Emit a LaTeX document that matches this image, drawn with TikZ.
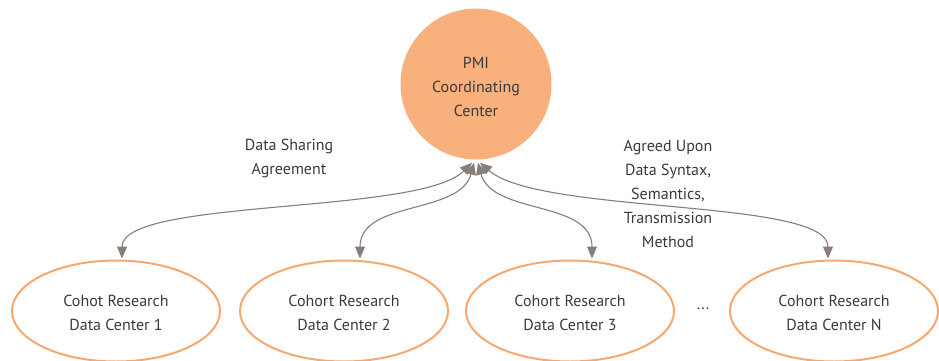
\documentclass[tikz,border=0pt]{standalone}
\usepackage{fontspec}
\setmainfont{PT Sans}
\usetikzlibrary{arrows.meta,shapes.geometric,calc}
\definecolor{orangefill}{HTML}{F8B07C}
\definecolor{orangeline}{HTML}{F6A86F}
\definecolor{arrowgray}{HTML}{877D79}
\definecolor{textgray}{HTML}{3A3A3A}
\tikzset{
  lbl/.style={align=center,text=textgray,font=\fontsize{16}{24}\selectfont,inner sep=0pt},
  center/.style={circle,fill=orangefill,minimum size=151pt,inner sep=0pt},
  cohort/.style={ellipse,draw=orangeline,line width=2pt,minimum width=208pt,minimum height=101pt,inner sep=0pt},
  link/.style={draw=arrowgray,line width=1.1pt,{Triangle[length=12pt,width=10pt]}-{Triangle[length=12pt,width=10pt]}}
}
\begin{document}
\begin{tikzpicture}[x=1pt,y=-1pt]
\useasboundingbox (0,0) rectangle (939,361);
\node[center] (pmi) at (476,84) {};
\node[lbl] (pmit) at (476,87) {PMI\\Coordinating\\Center};
\node[cohort] (c1) at (116,311) {};
\node[cohort] (c2) at (344,311) {};
\node[cohort] (c3) at (570,311) {};
\node[cohort] (cN) at (834,311) {};
\node[lbl] (t1) at (116,313) {Cohot Research\\Data Center 1};
\node[lbl] (t2) at (344,313) {Cohort Research\\Data Center 2};
\node[lbl] (t3) at (570,313) {Cohort Research\\Data Center 3};
\node[lbl] (tN) at (834,313) {Cohort Research\\Data Center N};
\node[lbl] (dots) at (703,309) {...};
\node[lbl] (dsa) at (289,158) {Data Sharing\\Agreement};
\node[lbl] (agr) at (668,194) {Agreed Upon\\Data Syntax,\\Semantics,\\Transmission\\Method};
\coordinate (s1) at ($(pmi.south)+(-4,3)$);
\coordinate (s2) at ($(pmi.south)+(-2,3)$);
\coordinate (s3) at ($(pmi.south)+(2,3)$);
\coordinate (s4) at ($(pmi.south)+(4,3)$);
\coordinate (e1) at ($(c1.north)+(6,-1)$);
\coordinate (e2) at ($(c2.north)+(16,-1)$);
\coordinate (e3) at ($(c3.north)+(22,-1)$);
\coordinate (e4) at ($(cN.north)+(-6,-1)$);
\draw[link] (s1) .. controls (420,215) and (122,198) .. (e1);
\draw[link] (s2) .. controls (460,215) and (360,200) .. (e2);
\draw[link] (s3) .. controls (492,215) and (592,200) .. (e3);
\draw[link] (s4) .. controls (540,215) and (828,198) .. (e4);
\end{tikzpicture}
\end{document}
